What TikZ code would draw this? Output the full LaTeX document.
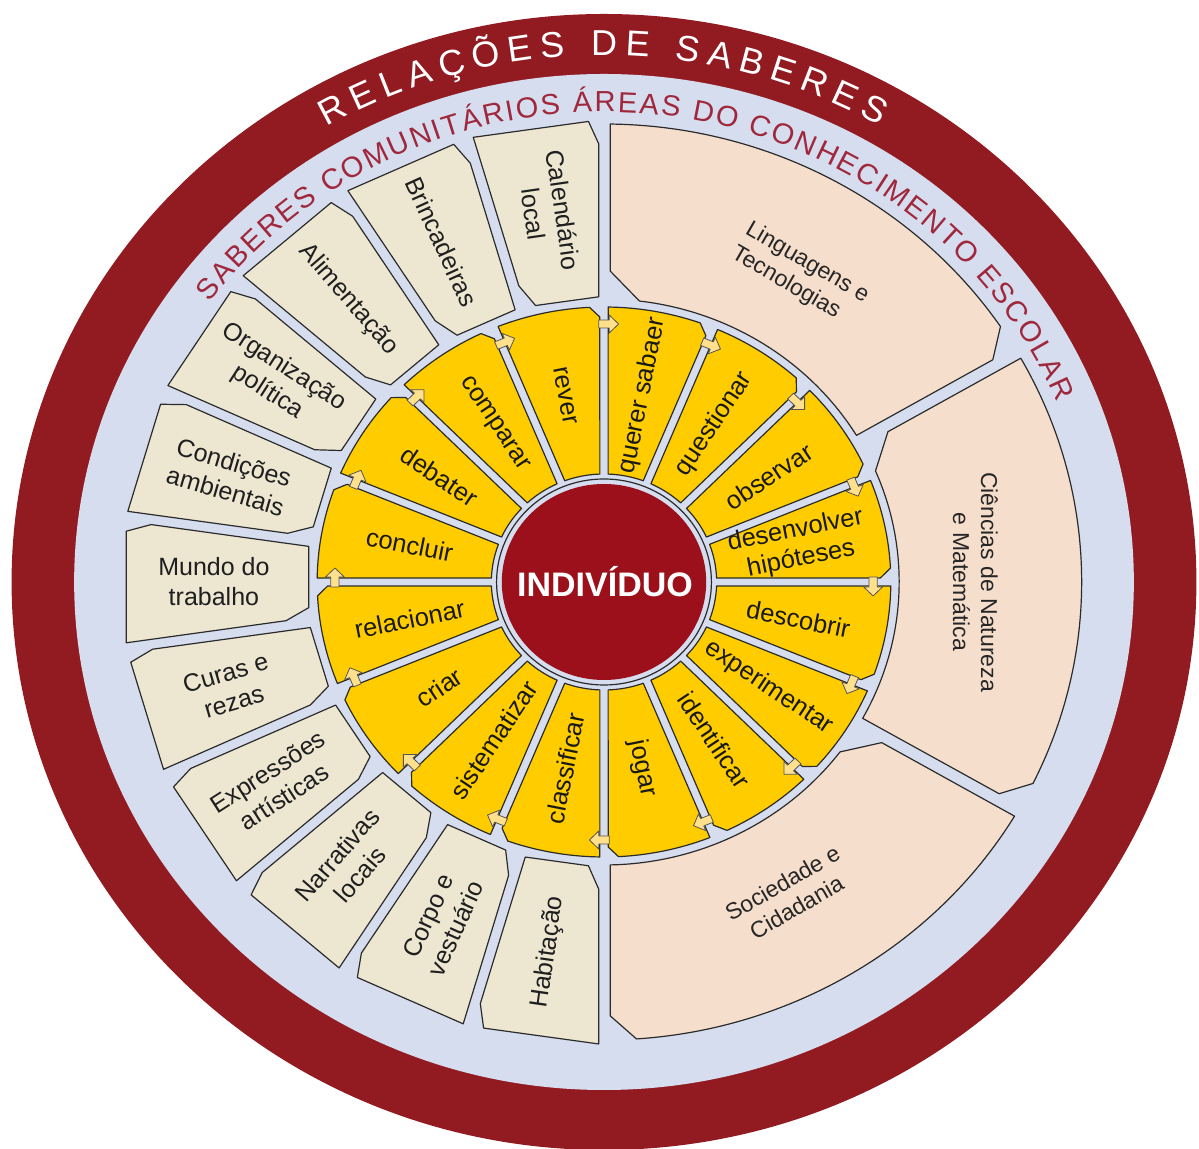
\documentclass[tikz,border=0pt]{standalone}
\usepackage{fontspec}
\setmainfont{Liberation Sans}
\usetikzlibrary{decorations.text}
\definecolor{bandred}{HTML}{921B22}
\definecolor{ringblue}{HTML}{D6DDEF}
\definecolor{sabbeige}{HTML}{EDE7D2}
\definecolor{areapeach}{HTML}{F5DECC}
\definecolor{actgold}{HTML}{FFCC00}
\definecolor{arrowpale}{HTML}{FFE08C}
\definecolor{corered}{HTML}{9B101A}
\definecolor{ringtext}{HTML}{A0283C}
\definecolor{edgegray}{HTML}{2B2B2B}
\tikzset{
  outline/.style={draw=edgegray, line width=0.6pt, line join=round},
  sabshape/.style={outline, fill=sabbeige},
  areashape/.style={outline, fill=areapeach},
  actshape/.style={outline, fill=actgold},
  flowarrow/.style={draw=edgegray!80, line width=0.4pt, fill=arrowpale, line join=round},
  sablabel/.style={font=\fontsize{12.5}{15}\selectfont, align=center, text=black!88, inner sep=0pt},
  arealabel/.style={font=\fontsize{11.5}{14}\selectfont, text=black!85, inner sep=0pt},
  actlabel/.style={font=\fontsize{12.75}{14.5}\selectfont, align=center, text=black!90, inner sep=0pt},
}
% beige box of community knowledge: angle, name, text
\newcommand\sabbox[3]{%
  \begin{scope}[rotate=#1]
    \filldraw[sabshape] (458,-50.8) -- (458,60.8) -- (304.8,38.7) -- (283,25.6) -- (283,-35.6) -- (434.2,-57.4) -- cycle;
    \node[sablabel, rotate={#1-180}] (#2) at (374,0) {#3};
  \end{scope}}
% yellow action segment: centre angle, name, text, text rotation
\newcommand\actseg[4]{%
  \filldraw[actshape] ({#1-11.25+2.1}:108) -- ({#1-11.25+0.87}:265) -- ({#1-11.25+2.9}:275)
     arc[start angle={#1-11.25+2.9}, end angle={#1+11.25-0.83}, radius=275]
     -- ({#1+11.25-2.1}:108)
     arc[start angle={#1+11.25-2.1}, end angle={#1-11.25+2.1}, radius=108] -- cycle;
  \node[actlabel, rotate={#4}] (#2) at (#1:190) {#3};}
% peach area segment: ccw angle, cw angle
\newcommand\areaseg[2]{%
  \filldraw[areashape] ({#1-6.9}:283) -- ({#1-1.1}:311) -- ({#1-0.75}:458)
     arc[start angle={#1-0.75}, end angle={#2+3.9}, radius=458]
     -- ({#2+0.8}:434) -- ({#2+1.2}:283)
     arc[start angle={#2+1.2}, end angle={#1-6.9}, radius=283] -- cycle;}
\begin{document}
\begin{tikzpicture}[x=0.5pt,y=0.5pt]
\useasboundingbox (-604,-567) rectangle (595,582);
\begin{scope}[xscale=1.043]
  \fill[bandred] (0,0) circle (568);
  \fill[ringblue] (0,0) circle (508);
  % title in red band
  \path[decorate, decoration={text along path,
      text={|\fontsize{18}{20}\selectfont\color{white}|RELAÇÕES DE SABERES},
      text align=fit to path}]
      (120.3:527) arc[start angle=120.3, end angle=59.9, radius=527];
  % ring text
  \path[decorate, decoration={text along path,
      text={|\fontsize{14.5}{18}\selectfont\color{ringtext}|SABERES COMUNITÁRIOS ÁREAS DO CONHECIMENTO ESCOLAR},
      text align=fit to path}]
      (143.5:470) arc[start angle=143.5, end angle=22.5, radius=470];
  % areas of school knowledge
  \areaseg{90}{30}
  \areaseg{30}{-30}
  \areaseg{-30}{-90}
  \node[arealabel, align=left, rotate=-30] (ling) at (58.5:360) {Linguagens e\\Tecnologias};
  \node[arealabel, align=center, rotate=-90] (cien) at (0:356) {Ciências de Natureza\\e Matemática};
  \node[arealabel, align=center, rotate=30] (soc) at (-60.4:360) {Sociedade e\\Cidadania};
  % community knowledge
  \sabbox{98.18}{cal}{Calendário\\local}
  \sabbox{114.55}{brin}{Brincadeiras}
  \sabbox{130.91}{alim}{Alimentação}
  \sabbox{147.27}{org}{Organização\\política}
  \sabbox{163.64}{cond}{Condições\\ambientais}
  \sabbox{180}{mundo}{Mundo do\\trabalho}
  \sabbox{196.36}{curas}{Curas e\\rezas}
  \sabbox{212.73}{expr}{Expressões\\artísticas}
  \sabbox{229.09}{narr}{Narrativas\\locais}
  \sabbox{245.45}{corpo}{Corpo e\\vestuário}
  \sabbox{261.82}{hab}{Habitação}
  % action ring
  \actseg{101.25}{rever}{rever}{-78.75}
  \actseg{78.75}{querer}{querer sabaer}{78.75}
  \actseg{56.25}{quest}{questionar}{56.25}
  \actseg{33.75}{obs}{observar}{33.75}
  \actseg{11.25}{hip}{desenvolver\\hipóteses}{11.25}
  \actseg{-11.25}{desc}{descobrir}{-11.25}
  \actseg{-33.75}{exper}{experimentar}{-33.75}
  \actseg{-56.25}{ident}{identificar}{-56.25}
  \actseg{-78.75}{jogar}{jogar}{-78.75}
  \actseg{-101.25}{class}{classificar}{78.75}
  \actseg{-123.75}{sist}{sistematizar}{56.25}
  \actseg{-146.25}{criar}{criar}{33.75}
  \actseg{-168.75}{rel}{relacionar}{11.25}
  \actseg{168.75}{concl}{concluir}{-11.25}
  \actseg{146.25}{deb}{debater}{-33.75}
  \actseg{123.75}{comp}{comparar}{-56.25}
  % clockwise flow arrows
  \foreach \d in {0,22.5,...,337.5}{
    \begin{scope}[shift={(\d:258)}, rotate={\d-90}]
      \filldraw[flowarrow] (-5,-4) -- (5,-4) -- (5,-9) -- (14,0) -- (5,9) -- (5,4) -- (-5,4) -- cycle;
    \end{scope}}
  % centre
  \filldraw[fill=ringblue, draw=edgegray, line width=0.6pt] (0,0) circle (103);
  \fill[corered] (0,0) circle (98);
\end{scope}
\node[font=\bfseries\fontsize{17}{20}\selectfont, text=white] (ind) at (1,0) {INDIVÍDUO};
\end{tikzpicture}
\end{document}
